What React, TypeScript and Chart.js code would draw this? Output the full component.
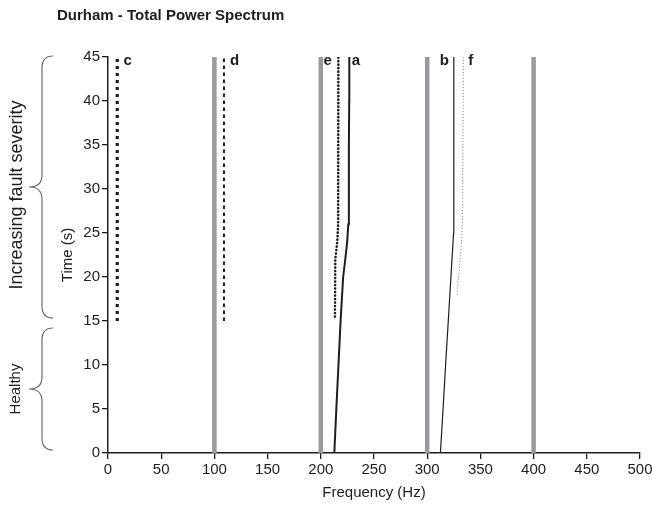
import React, { useEffect, useRef } from "react";
import { Chart, registerables } from "chart.js";

Chart.register(...registerables);

// ---- data (frequency in Hz vs time in s) ----
const harmonicFreqs = [100, 200, 300, 400];
const harmonicTimes = [0, 45];

const cTimes = [15, 45];
const cFreqs = [8.7, 8.7];

const dTimes = [15, 45];
const dFreqs = [109, 109];

const eTimes = [15.5, 22, 24, 26, 45];
const eFreqs = [213.3, 213.6, 215.5, 216.3, 216.5];

const aTimes = [0, 5, 10, 15, 20, 22, 24, 26, 30, 35, 40, 45];
const aFreqs = [212.7, 214.6, 216.6, 218.6, 221, 223, 224.8, 225.8, 226.3, 226.5, 226.7, 226.8];

const bTimes = [0, 5, 10, 15, 20, 25, 26, 45];
const bFreqs = [312.4, 314.9, 317.3, 319.8, 322.3, 324.8, 325, 325];

const fTimes = [18, 20, 22, 24, 26, 28, 45];
const fFreqs = [328, 329.5, 331, 332.2, 333, 333.3, 334];

const xTickValues = [0, 50, 100, 150, 200, 250, 300, 350, 400, 450, 500];
const yTickValues = [0, 5, 10, 15, 20, 25, 30, 35, 40, 45];

const seriesLabels = ["c", "d", "e", "a", "b", "f"];
const seriesLabelFreqs = [18.5, 119, 206.5, 233, 316, 341];

const braceLabels = ["Increasing fault severity", "Healthy"];
const braceLabelSizes = [18, 15];
const braceRanges = [
  [15, 45],
  [0, 15],
];

const titleText = "Durham - Total Power Spectrum";
const xTitle = "Frequency (Hz)";
const yTitle = "Time (s)";

const FONT = "'Liberation Sans', Arial, Helvetica, sans-serif";
const INK = "#1e1e1e";
const GRAY = "#9a9a9c";

function pts(freqs: number[], times: number[]) {
  return freqs.map((f, i) => ({ x: f, y: times[i] }));
}

const annotationsPlugin = {
  id: "annotations",
  afterDraw(chart: any) {
    const { ctx, scales } = chart;
    const xs = scales.x;
    const ys = scales.y;
    ctx.save();
    // series letters
    ctx.fillStyle = INK;
    ctx.font = `bold 15px ${FONT}`;
    ctx.textAlign = "center";
    ctx.textBaseline = "alphabetic";
    seriesLabels.forEach((lab, i) => {
      ctx.fillText(lab, xs.getPixelForValue(seriesLabelFreqs[i]), ys.getPixelForValue(45) + 8);
    });
    // braces
    braceRanges.forEach((r, i) => {
      const top = ys.getPixelForValue(r[1]) + (i === 1 ? 7 : -1);
      const bot = ys.getPixelForValue(r[0]) - (i === 0 ? 3 : 3);
      const mid = (top + bot) / 2;
      const xEnd = 53;
      const xBar = 42;
      const xTip = 29;
      const k = 12;
      ctx.strokeStyle = "#6e6e6e";
      ctx.lineWidth = 1.2;
      ctx.beginPath();
      ctx.moveTo(xEnd, top);
      ctx.quadraticCurveTo(xBar, top, xBar, top + k);
      ctx.lineTo(xBar, mid - k);
      ctx.quadraticCurveTo(xBar, mid, xTip, mid);
      ctx.quadraticCurveTo(xBar, mid, xBar, mid + k);
      ctx.lineTo(xBar, bot - k);
      ctx.quadraticCurveTo(xBar, bot, xEnd, bot);
      ctx.stroke();
      ctx.save();
      ctx.translate(i === 0 ? 17.5 : 16, mid + (i === 0 ? 8 : 0));
      ctx.rotate(-Math.PI / 2);
      ctx.fillStyle = INK;
      ctx.font = `${braceLabelSizes[i]}px ${FONT}`;
      ctx.textAlign = "center";
      ctx.textBaseline = "middle";
      ctx.fillText(braceLabels[i], 0, 0);
      ctx.restore();
    });
    ctx.restore();
  },
};

export default function App() {
  const ref = useRef<HTMLCanvasElement | null>(null);

  useEffect(() => {
    if (!ref.current) return;
    const lineBase = {
      showLine: true,
      pointRadius: 0,
      pointHoverRadius: 0,
      fill: false,
      tension: 0,
    };
    const datasets: any[] = [
      ...harmonicFreqs.map((h) => ({
        ...lineBase,
        label: `${h} Hz`,
        data: pts([h, h], harmonicTimes),
        borderColor: GRAY,
        borderWidth: 4.5,
      })),
      {
        ...lineBase,
        label: "c",
        data: pts(cFreqs, cTimes),
        borderColor: INK,
        borderWidth: 3.2,
        borderDash: [3, 4],
      },
      {
        ...lineBase,
        label: "d",
        data: pts(dFreqs, dTimes),
        borderColor: INK,
        borderWidth: 2,
        borderDash: [3.5, 3.5],
      },
      {
        ...lineBase,
        label: "e",
        data: pts(eFreqs, eTimes),
        borderColor: INK,
        borderWidth: 2.6,
        borderDash: [0.1, 3.4],
        borderCapStyle: "round",
      },
      {
        ...lineBase,
        label: "a",
        data: pts(aFreqs, aTimes),
        borderColor: INK,
        borderWidth: 2,
      },
      {
        ...lineBase,
        label: "b",
        data: pts(bFreqs, bTimes),
        borderColor: INK,
        borderWidth: 1.2,
      },
      {
        ...lineBase,
        label: "f",
        data: pts(fFreqs, fTimes),
        borderColor: "#707070",
        borderWidth: 1,
        borderDash: [1, 2],
      },
    ];

    const chart = new Chart(ref.current, {
      type: "scatter",
      data: { datasets },
      plugins: [annotationsPlugin],
      options: {
        animation: false,
        responsive: false,
        devicePixelRatio: 1,
        events: [],
        layout: { padding: { left: 57, right: 12, top: 0, bottom: 0 } },
        plugins: {
          legend: { display: false },
          tooltip: { enabled: false },
          title: {
            display: true,
            text: titleText,
            align: "start",
            color: INK,
            font: { family: FONT, size: 15, weight: "bold", lineHeight: 1.2 },
            padding: { top: 7, bottom: 32 },
          },
        },
        scales: {
          x: {
            type: "linear",
            min: 0,
            max: 500,
            afterBuildTicks: (s: any) => {
              s.ticks = xTickValues.map((v) => ({ value: v }));
            },
            afterFit: (s: any) => {
              s.height = 53;
              s.paddingLeft = 0;
              s.paddingRight = 0;
            },
            ticks: {
              color: INK,
              font: { family: FONT, size: 15 },
              padding: 2,
              maxRotation: 0,
              autoSkip: false,
            },
            grid: {
              display: true,
              drawOnChartArea: false,
              drawTicks: true,
              tickLength: 6,
              color: INK,
              lineWidth: 1.3,
            },
            border: { display: true, color: INK, width: 1.5 },
            title: {
              display: true,
              text: xTitle,
              color: INK,
              font: { family: FONT, size: 15, lineHeight: 1.2 },
              padding: { top: 0, bottom: 4 },
            },
          },
          y: {
            type: "linear",
            min: 0,
            max: 45,
            afterBuildTicks: (s: any) => {
              s.ticks = yTickValues.map((v) => ({ value: v }));
            },
            afterFit: (s: any) => {
              s.width = 51;
              s.paddingTop = 0;
              s.paddingBottom = 0;
            },
            ticks: {
              color: INK,
              font: { family: FONT, size: 15 },
              padding: 2,
              autoSkip: false,
            },
            grid: {
              display: true,
              drawOnChartArea: false,
              drawTicks: true,
              tickLength: 6,
              color: INK,
              lineWidth: 1.3,
            },
            border: { display: true, color: INK, width: 1.5 },
            title: {
              display: true,
              text: yTitle,
              color: INK,
              font: { family: FONT, size: 15, lineHeight: 1.2 },
              padding: { top: 2, bottom: 0 },
            },
          },
        },
      } as any,
    });
    return () => chart.destroy();
  }, []);

  return (
    <div style={{ position: "fixed", left: 0, top: 0, width: 652, height: 506, background: "#fff" }}>
      <canvas ref={ref} width={652} height={506} style={{ width: 652, height: 506, display: "block" }} />
    </div>
  );
}
